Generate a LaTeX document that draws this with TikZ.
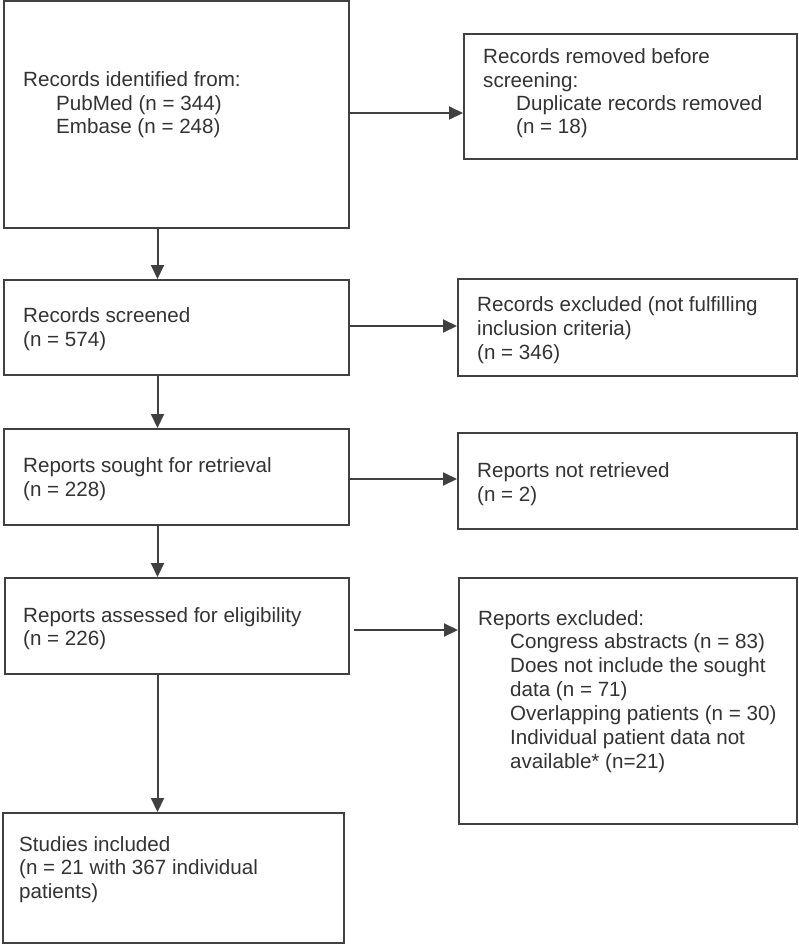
\documentclass[tikz,border=0pt]{standalone}
\usepackage{fontspec}
\setmainfont{Liberation Sans}
\usetikzlibrary{arrows.meta}
\definecolor{linegray}{HTML}{404040}
\definecolor{textgray}{HTML}{333333}
\begin{document}
\begin{tikzpicture}[x=1pt,y=-1pt,
  box/.style={draw=linegray,line width=2pt,inner sep=0pt,rectangle},
  txt/.style={anchor=base west,inner sep=0pt,text=textgray,font=\fontsize{20.6}{24}\selectfont},
  arr/.style={draw=linegray,line width=2pt,-{Triangle[length=14pt,width=13pt]}}]
\useasboundingbox[fill=white] (0,0) rectangle (799,946);
% boxes
\node[box,minimum width=345pt,minimum height=227pt] (b1) at (176.5,114.5) {};
\node[box,minimum width=333pt,minimum height=125pt] (b2) at (630.5,96.5) {};
\node[box,minimum width=345pt,minimum height=95pt] (b3) at (176.5,327.5) {};
\node[box,minimum width=339pt,minimum height=97pt] (b4) at (627.5,327.5) {};
\node[box,minimum width=345pt,minimum height=96pt] (b5) at (176.5,477) {};
\node[box,minimum width=339pt,minimum height=96pt] (b6) at (627.5,481) {};
\node[box,minimum width=344pt,minimum height=96pt] (b7) at (177,626) {};
\node[box,minimum width=338pt,minimum height=246pt] (b8) at (628,701) {};
\node[box,minimum width=341pt,minimum height=130pt] (b9) at (173.5,878) {};
% texts
\node[txt] (t1a) at (23,86) {Records identified from:};
\node[txt] (t1b) at (56,110) {PubMed (n = 344)};
\node[txt] (t1c) at (56,133) {Embase (n = 248)};
\node[txt] (t2a) at (483,63) {Records removed before};
\node[txt] (t2b) at (483,87) {screening:};
\node[txt] (t2c) at (516,110) {Duplicate records removed};
\node[txt] (t2d) at (516,133) {(n = 18)};
\node[txt] (t3a) at (23,322) {Records screened};
\node[txt] (t3b) at (23,346) {(n = 574)};
\node[txt] (t4a) at (477,311) {Records excluded (not fulfilling};
\node[txt] (t4b) at (477,335) {inclusion criteria)};
\node[txt] (t4c) at (477,359) {(n = 346)};
\node[txt] (t5a) at (23,472) {Reports sought for retrieval};
\node[txt] (t5b) at (23,496) {(n = 228)};
\node[txt] (t6a) at (477,477) {Reports not retrieved};
\node[txt] (t6b) at (477,501) {(n = 2)};
\node[txt] (t7a) at (23,622) {Reports assessed for eligibility};
\node[txt] (t7b) at (23,645) {(n = 226)};
\node[txt] (t8a) at (478,625) {Reports excluded:};
\node[txt] (t8b) at (510,648) {Congress abstracts (n = 83)};
\node[txt] (t8c) at (510,672) {Does not include the sought};
\node[txt] (t8d) at (510,696) {data (n = 71)};
\node[txt] (t8e) at (510,720) {Overlapping patients (n = 30)};
\node[txt] (t8f) at (510,744) {Individual patient data not};
\node[txt] (t8g) at (510,768) {available* (n=21)};
\node[txt] (t9a) at (19,851) {Studies included};
\node[txt] (t9b) at (19,874) {(n = 21 with 367 individual};
\node[txt] (t9c) at (19,898) {patients)};
% connectors
\coordinate (col) at (157.5,0);
\coordinate (r1) at (0,113);
\coordinate (r2) at (0,326);
\coordinate (r3) at (0,479);
\coordinate (r4) at (0,630);
\draw[arr] (b1.south -| col) -- (b3.north -| col);
\draw[arr] (b3.south -| col) -- (b5.north -| col);
\draw[arr] (b5.south -| col) -- (b7.north -| col);
\draw[arr] (b7.south -| col) -- (b9.north -| col);
\draw[arr] (b1.east |- r1) -- (b2.west |- r1);
\draw[arr] (b3.east |- r2) -- (b4.west |- r2);
\draw[arr] (b5.east |- r3) -- (b6.west |- r3);
\draw[arr,shorten <=4pt] (b7.east |- r4) -- (b8.west |- r4);
\end{tikzpicture}
\end{document}
